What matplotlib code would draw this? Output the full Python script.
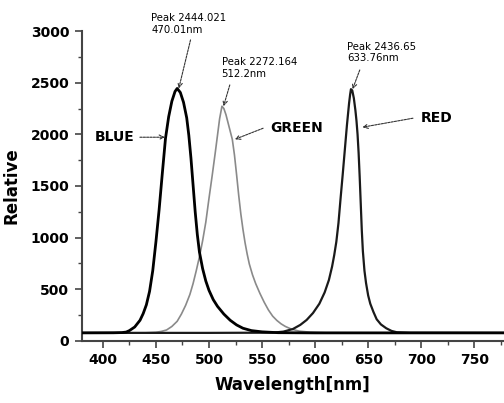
import matplotlib
matplotlib.use("Agg")
import matplotlib.pyplot as plt
from matplotlib.ticker import MultipleLocator

# ---- data ----
blue_wl = [380, 410, 418, 422, 425, 430, 435, 438, 441, 444, 447, 450, 453, 456, 459, 462,
           465, 468, 470.01, 473, 476, 479, 481, 483, 485, 487, 489, 491, 494, 497, 500, 504,
           508, 514, 520, 526, 532, 540, 550, 565, 600, 700, 778]
blue_val = [78, 79, 81, 86, 100, 135, 200, 265, 350, 480, 680, 960, 1270, 1620, 1960, 2170,
            2320, 2415, 2444, 2405, 2310, 2160, 1990, 1770, 1510, 1250, 1030, 860, 700, 580, 490, 400,
            335, 260, 200, 155, 123, 100, 88, 80, 78, 78, 78]

green_wl = [380, 440, 450, 455, 460, 465, 470, 474, 478, 482, 485, 488, 491, 494, 497, 500,
            503, 506, 508, 510, 512.2, 514, 516, 518, 520, 522, 524, 526, 528, 530, 532, 534,
            536, 538, 541, 544, 548, 552, 556, 560, 564, 568, 572, 578, 585, 595, 610, 700, 778]
green_val = [78, 79, 84, 92, 106, 140, 190, 260, 345, 450, 555, 680, 815, 970, 1150, 1380,
             1600, 1830, 1990, 2150, 2272, 2250, 2190, 2110, 2030, 1950, 1800, 1610, 1410, 1230, 1080, 950,
             840, 745, 640, 555, 460, 375, 300, 240, 198, 165, 140, 113, 95, 85, 80, 78, 78]

red_wl = [380, 500, 560, 570, 579, 586, 592, 598, 604, 609, 613, 616, 618, 620, 622, 624,
          626, 628, 630, 632, 633, 633.76, 635, 636.5, 638, 639, 640, 641, 642, 643, 644, 645,
          646.5, 648, 650, 652, 655, 658, 662, 667, 672, 677, 690, 778]
red_val = [78, 78, 80, 90, 115, 155, 203, 270, 360, 470, 590, 720, 830, 960, 1140, 1380,
           1610, 1850, 2090, 2300, 2385, 2437, 2425, 2350, 2230, 2130, 2000, 1820, 1590, 1330, 1070, 870,
           680, 560, 440, 360, 280, 210, 160, 123, 97, 84, 79, 78]

peak_labels = ["Peak 2444.021\n470.01nm", "Peak 2272.164\n512.2nm", "Peak 2436.65\n633.76nm"]
peak_x = [470.01, 512.2, 633.76]
peak_y = [2444.021, 2272.164, 2436.65]
series_names = ["BLUE", "GREEN", "RED"]

x_ticks = [400, 450, 500, 550, 600, 650, 700, 750]
y_ticks = [0, 500, 1000, 1500, 2000, 2500, 3000]

# ---- figure ----
fig = plt.figure(figsize=(5.04, 4.03), dpi=100)
ax = fig.add_axes([0.162, 0.154, 0.838, 0.769])

ax.plot(green_wl, green_val, color="#8a8a8a", lw=1.2, zorder=2)
ax.plot(red_wl, red_val, color="#1a1a1a", lw=1.6, zorder=3)
ax.plot(blue_wl, blue_val, color="#000000", lw=2.0, zorder=4)

ax.set_xlim(380, 778)
ax.set_ylim(0, 3000)

for s in ["top", "right"]:
    ax.spines[s].set_visible(False)
for s in ["left", "bottom"]:
    ax.spines[s].set_color("#444444")
    ax.spines[s].set_linewidth(1.5)

ax.set_xticks(x_ticks)
ax.set_yticks(y_ticks)
ax.xaxis.set_minor_locator(MultipleLocator(25))
ax.yaxis.set_minor_locator(MultipleLocator(250))
ax.tick_params(which="major", direction="out", length=5, width=1.2, color="#444444", pad=4)
ax.tick_params(which="minor", direction="out", length=3, width=1.0, color="#444444")
for lab in ax.get_xticklabels() + ax.get_yticklabels():
    lab.set_fontfamily("DejaVu Sans")
    lab.set_fontweight("bold")
    lab.set_fontsize(10)

ax.set_xlabel("Wavelength[nm]", fontfamily="DejaVu Sans", fontweight="bold", fontsize=12, labelpad=6)
ax.set_ylabel("Relative", fontfamily="DejaVu Sans", fontweight="bold", fontsize=12, labelpad=7)

arrow_kw = dict(arrowstyle="->", lw=0.8, color="#333333", linestyle=(0, (2, 1)),
                shrinkA=0, shrinkB=0, mutation_scale=8)

# peak annotations
peak_text_pos = [(445.7, 3069), (511.8, 2640), (630.5, 2793)]
peak_arrow_from = [(482.6, 2914), (519.6, 2478), (642.1, 2623)]
for lbl, px, py, tpos, afrom in zip(peak_labels, peak_x, peak_y, peak_text_pos, peak_arrow_from):
    ax.text(tpos[0], tpos[1], lbl, ha="left", va="center", fontfamily="DejaVu Sans",
            fontsize=7.3, linespacing=1.2, clip_on=False)
    ax.annotate("", xy=(px + 1.5, py), xytext=afrom, arrowprops=arrow_kw, annotation_clip=False)

# series name labels
name_text = [(430.2, 1970, "right"), (557.3, 2057, "left"), (699.2, 2159, "left")]
name_arrow_from = [(434.9, 1972), (551.0, 2059), (692.2, 2156)]
name_arrow_to = [(458.4, 1972), (524.4, 1952), (644.6, 2069)]
for nm, (tx, ty, ha), af, at in zip(series_names, name_text, name_arrow_from, name_arrow_to):
    ax.text(tx, ty, nm, ha=ha, va="center", fontfamily="DejaVu Sans", fontweight="bold", fontsize=10)
    ax.annotate("", xy=at, xytext=af, arrowprops=arrow_kw)

fig.savefig("out.png", dpi=100)
